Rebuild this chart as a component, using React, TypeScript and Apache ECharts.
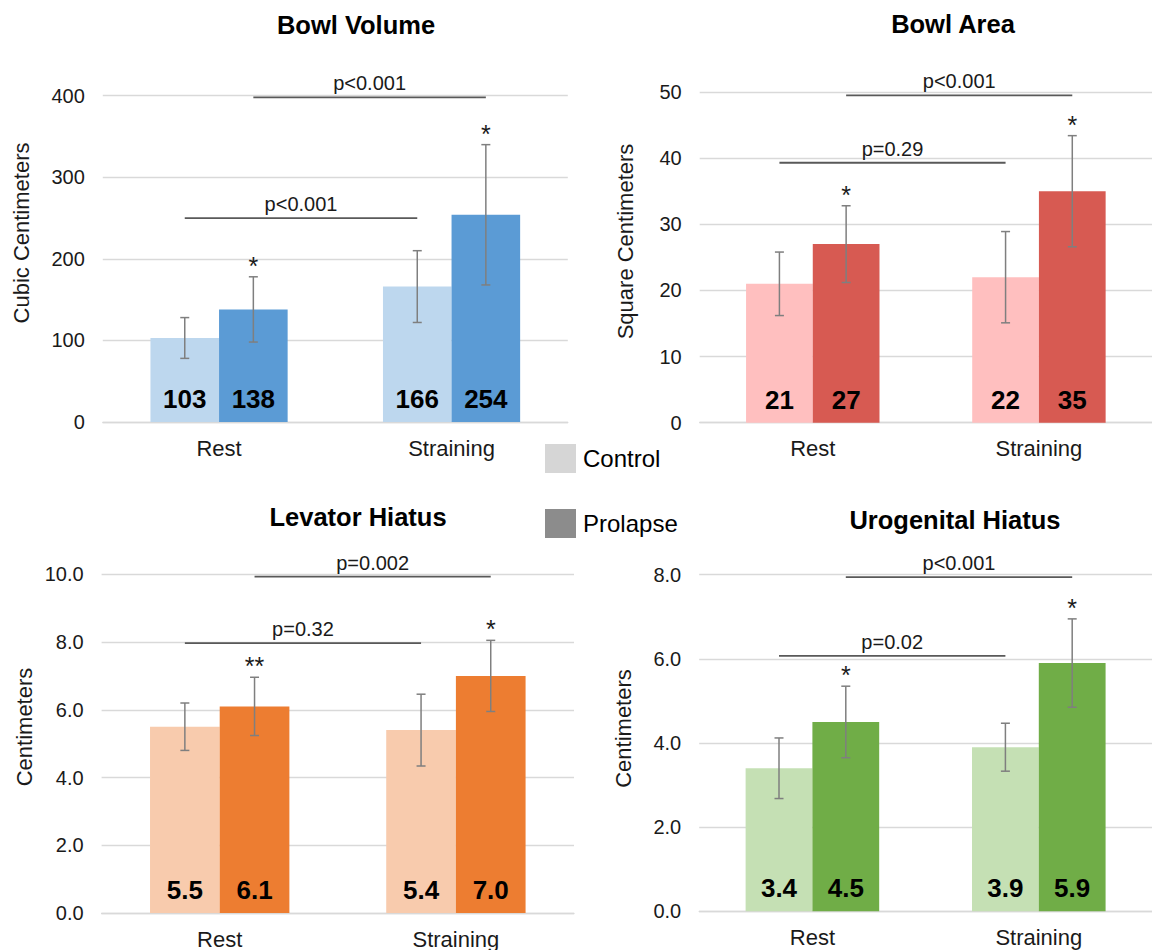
import React, { useEffect, useRef } from 'react';
import * as echarts from 'echarts';

// ---------- data ----------
const categories = ['Rest', 'Straining'];
const seriesNames = ['Control', 'Prolapse'];
const panelTitles = ['Bowl Volume', 'Bowl Area', 'Levator Hiatus', 'Urogenital Hiatus'];
const axisNames = ['Cubic Centimeters', 'Square Centimeters', 'Centimeters', 'Centimeters'];

const bowlVolumeControl = [103, 166];
const bowlVolumeProlapse = [138, 254];
const bowlVolumeControlErr = [25, 44];
const bowlVolumeProlapseErr = [40, 86];
const bowlVolumeStars = ['*', '*'];
const bowlVolumePValues = ['p<0.001', 'p<0.001'];
const bowlVolumePLevels = [250, 398];

const bowlAreaControl = [21, 22];
const bowlAreaProlapse = [27, 35];
const bowlAreaControlErr = [4.8, 6.9];
const bowlAreaProlapseErr = [5.8, 8.4];
const bowlAreaStars = ['*', '*'];
const bowlAreaPValues = ['p=0.29', 'p<0.001'];
const bowlAreaPLevels = [39.3, 49.5];

const levatorControl = [5.5, 5.4];
const levatorProlapse = [6.1, 7.0];
const levatorControlErr = [0.7, 1.06];
const levatorProlapseErr = [0.86, 1.05];
const levatorStars = ['**', '*'];
const levatorPValues = ['p=0.32', 'p=0.002'];
const levatorPLevels = [7.97, 9.93];

const urogenitalControl = [3.4, 3.9];
const urogenitalProlapse = [4.5, 5.9];
const urogenitalControlErr = [0.72, 0.57];
const urogenitalProlapseErr = [0.85, 1.05];
const urogenitalStars = ['*', '*'];
const urogenitalPValues = ['p=0.02', 'p<0.001'];
const urogenitalPLevels = [6.07, 7.94];

const yMax = [400, 50, 10, 8];
const yInterval = [100, 10, 2, 2];
const yDecimals = [0, 0, 1, 1];

const controlColors = ['#BDD7EE', '#FFBFBF', '#F8CBAD', '#C5E0B4'];
const prolapseColors = ['#5B9BD5', '#D75A52', '#ED7D31', '#70AD47'];
const legendColors = ['#D6D6D6', '#8C8C8C'];

// ---------- layout ----------
const grids = [
  { left: 102.8, top: 95.7, width: 465, height: 326.3 },
  { left: 699.7, top: 92, width: 462, height: 330.7 },
  { left: 101.6, top: 574.3, width: 472.4, height: 339.7 },
  { left: 699.2, top: 574.7, width: 462.2, height: 336.6 },
];
const titlePos = [
  [356, 25],
  [953, 23.5],
  [358, 517],
  [955, 520],
];
const axisNamePos = [
  [21, 233],
  [625.6, 241.5],
  [24.8, 727],
  [623, 728.5],
];

const GAP = 0.41;
const HALF_OFF = (1 - GAP) / 4;
const FONT = '"Liberation Sans", Arial, Helvetica, sans-serif';

function hasFont(name: string): boolean {
  try {
    const ctx = document.createElement('canvas').getContext('2d');
    if (!ctx) return false;
    ctx.font = 'bold 40px monospace';
    const a = ctx.measureText('103 254 Wmi').width;
    ctx.font = `bold 40px "${name}", monospace`;
    const b = ctx.measureText('103 254 Wmi').width;
    return a !== b;
  } catch (e) {
    return false;
  }
}

const panels = [
  {
    control: bowlVolumeControl, prolapse: bowlVolumeProlapse,
    controlErr: bowlVolumeControlErr, prolapseErr: bowlVolumeProlapseErr,
    stars: bowlVolumeStars, pValues: bowlVolumePValues, pLevels: bowlVolumePLevels,
  },
  {
    control: bowlAreaControl, prolapse: bowlAreaProlapse,
    controlErr: bowlAreaControlErr, prolapseErr: bowlAreaProlapseErr,
    stars: bowlAreaStars, pValues: bowlAreaPValues, pLevels: bowlAreaPLevels,
  },
  {
    control: levatorControl, prolapse: levatorProlapse,
    controlErr: levatorControlErr, prolapseErr: levatorProlapseErr,
    stars: levatorStars, pValues: levatorPValues, pLevels: levatorPLevels,
  },
  {
    control: urogenitalControl, prolapse: urogenitalProlapse,
    controlErr: urogenitalControlErr, prolapseErr: urogenitalProlapseErr,
    stars: urogenitalStars, pValues: urogenitalPValues, pLevels: urogenitalPLevels,
  },
];

function buildOption(valueFamily: string, valueSize: number) {
  const grid: any[] = [];
  const xAxis: any[] = [];
  const yAxis: any[] = [];
  const series: any[] = [];
  const title: any[] = [];
  const graphic: any[] = [];

  panels.forEach((p, i) => {
    const dec = yDecimals[i];
    grid.push({ ...grids[i], containLabel: false });
    xAxis.push({
      type: 'category',
      gridIndex: i,
      data: categories,
      axisTick: { show: false },
      axisLine: { lineStyle: { color: '#D9D9D9', width: 1.3 } },
      axisLabel: { fontSize: 22, color: '#1a1a1a', margin: 15, fontFamily: FONT },
    });
    yAxis.push({
      type: 'value',
      gridIndex: i,
      min: 0,
      max: yMax[i],
      interval: yInterval[i],
      axisLine: { show: false },
      axisTick: { show: false },
      splitLine: { lineStyle: { color: '#D9D9D9', width: 1.3 } },
      axisLabel: {
        fontSize: 20, color: '#1a1a1a', margin: 18, fontFamily: FONT,
        formatter: (v: number) => v.toFixed(dec),
      },
    });

    const label = {
      show: true,
      position: 'insideBottom',
      distance: 10,
      fontSize: valueSize,
      fontWeight: 'bold',
      fontFamily: valueFamily,
      color: '#000',
      formatter: (d: any) => Number(d.value).toFixed(dec),
    };
    series.push({
      type: 'bar', name: seriesNames[0], xAxisIndex: i, yAxisIndex: i,
      data: p.control, barGap: '0%', barCategoryGap: GAP * 100 + '%',
      itemStyle: { color: controlColors[i] }, label, silent: true,
    });
    series.push({
      type: 'bar', name: seriesNames[1], xAxisIndex: i, yAxisIndex: i,
      data: p.prolapse, barGap: '0%', barCategoryGap: GAP * 100 + '%',
      itemStyle: { color: prolapseColors[i] }, label, silent: true,
    });

    // error bars
    const errData: number[][] = [];
    [p.control, p.prolapse].forEach((vals, s) => {
      const errs = s === 0 ? p.controlErr : p.prolapseErr;
      vals.forEach((v, c) => errData.push([c, v, errs[c], s]));
    });
    series.push({
      type: 'custom', xAxisIndex: i, yAxisIndex: i, z: 5, silent: true,
      data: errData,
      renderItem: (params: any, api: any) => {
        const c = api.value(0), m = api.value(1), e = api.value(2), s = api.value(3);
        const band = api.size([1, 0])[0];
        const x = api.coord([c, m])[0] + (s === 0 ? -1 : 1) * band * HALF_OFF;
        const yt = api.coord([c, m + e])[1];
        const yb = api.coord([c, m - e])[1];
        const style = { stroke: '#7F7F7F', lineWidth: 1.5 };
        return {
          type: 'group',
          children: [
            { type: 'line', shape: { x1: x, y1: yt, x2: x, y2: yb }, style },
            { type: 'line', shape: { x1: x - 4.5, y1: yt, x2: x + 4.5, y2: yt }, style },
            { type: 'line', shape: { x1: x - 4.5, y1: yb, x2: x + 4.5, y2: yb }, style },
          ],
        };
      },
    });

    // significance stars above prolapse bars
    const starData = p.prolapse.map((v, c) => [c, v + p.prolapseErr[c]]);
    const stars = p.stars;
    series.push({
      type: 'custom', xAxisIndex: i, yAxisIndex: i, z: 6, silent: true,
      data: starData,
      renderItem: (params: any, api: any) => {
        const c = api.value(0), top = api.value(1);
        const band = api.size([1, 0])[0];
        const pt = api.coord([c, top]);
        return {
          type: 'text',
          x: pt[0] + band * HALF_OFF,
          y: pt[1] - 11,
          style: {
            text: stars[params.dataIndex], fontSize: 25, fill: '#1a1a1a',
            align: 'center', verticalAlign: 'middle', fontFamily: FONT,
          },
        };
      },
    });

    // p-value brackets (series 0 = control rest vs straining, 1 = prolapse)
    const bracketData = p.pLevels.map((lv, s) => [s, lv]);
    const pv = p.pValues;
    series.push({
      type: 'custom', xAxisIndex: i, yAxisIndex: i, z: 6, silent: true,
      data: bracketData,
      renderItem: (params: any, api: any) => {
        const s = api.value(0), lv = api.value(1);
        const band = api.size([1, 0])[0];
        const off = (s === 0 ? -1 : 1) * band * HALF_OFF;
        const p0 = api.coord([0, lv]);
        const p1 = api.coord([1, lv]);
        const x1 = p0[0] + off, x2 = p1[0] + off, y = p0[1];
        return {
          type: 'group',
          children: [
            { type: 'line', shape: { x1, y1: y, x2, y2: y }, style: { stroke: '#595959', lineWidth: 1.8 } },
            {
              type: 'text', x: (x1 + x2) / 2, y: y - 4,
              style: {
                text: pv[params.dataIndex], fontSize: 20, fill: '#1a1a1a',
                align: 'center', verticalAlign: 'bottom', fontFamily: FONT,
              },
            },
          ],
        };
      },
    });

    title.push({
      text: panelTitles[i],
      left: titlePos[i][0],
      top: titlePos[i][1] - 13,
      textAlign: 'center',
      padding: 0,
      textStyle: { fontSize: 25.5, fontWeight: 'bold', color: '#000', fontFamily: FONT, lineHeight: 26 },
    });

    graphic.push({
      type: 'text',
      x: axisNamePos[i][0],
      y: axisNamePos[i][1],
      rotation: Math.PI / 2,
      style: {
        text: axisNames[i], fontSize: 22, fill: '#1a1a1a',
        align: 'center', verticalAlign: 'middle', fontFamily: FONT,
      },
    });
  });

  return {
    animation: false,
    textStyle: { fontFamily: FONT },
    title,
    grid,
    xAxis,
    yAxis,
    series,
    graphic,
    legend: {
      left: 545,
      top: 444,
      orient: 'vertical',
      itemGap: 36,
      itemWidth: 31,
      itemHeight: 29,
      padding: 0,
      selectedMode: false,
      icon: 'rect',
      textStyle: { fontSize: 24, color: '#000', fontFamily: FONT, padding: [0, 0, 0, 2] },
      data: seriesNames.map((n, k) => ({ name: n, itemStyle: { color: legendColors[k] } })),
    },
  };
}

export default function App() {
  const ref = useRef<HTMLDivElement>(null);
  useEffect(() => {
    document.body.style.margin = '0';
    if (!ref.current) return;
    const narrow = hasFont('Liberation Sans Narrow');
    const family = narrow ? '"Liberation Sans Narrow", "Arial Narrow", sans-serif' : FONT;
    const size = narrow ? 28 : 26;
    const chart = echarts.init(ref.current, undefined, { renderer: 'svg' });
    chart.setOption(buildOption(family, size) as any);
    return () => chart.dispose();
  }, []);
  return <div ref={ref} style={{ width: 1152, height: 950 }} />;
}
